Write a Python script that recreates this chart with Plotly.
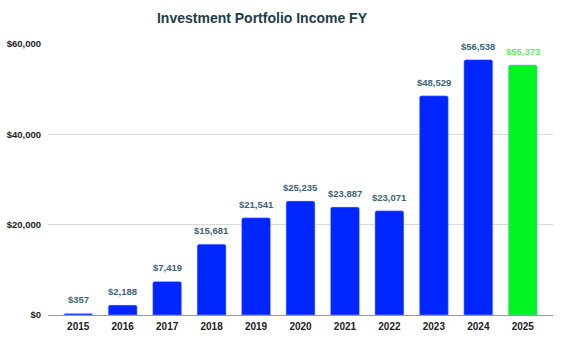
import plotly.graph_objects as go

years = ["2015", "2016", "2017", "2018", "2019", "2020", "2021", "2022", "2023", "2024", "2025"]
income = [357, 2188, 7419, 15681, 21541, 25235, 23887, 23071, 48529, 56538, 55373]
y_ticks = [0, 20000, 40000, 60000]
y_tick_labels = ["$0", "$20,000", "$40,000", "$60,000"]

blue = "#0026ff"
green = "#00f522"
bar_colors = [blue] * (len(years) - 1) + [green]
label_colors = ["#3e6478"] * (len(years) - 1) + ["#5cf05c"]
FONT = "Liberation Sans, Arial, sans-serif"

fig = go.Figure(
    go.Bar(
        x=years,
        y=income,
        marker=dict(color=bar_colors, line=dict(color="rgba(170,180,255,0.6)", width=0.8), cornerradius=2),
        width=0.65,
    )
)

# value labels above each bar (x given as category index)
for i, (val, col) in enumerate(zip(income, label_colors)):
    fig.add_annotation(
        x=i,
        y=val,
        xref="x",
        yref="y",
        text=f"<b>${val:,}</b>",
        showarrow=False,
        xanchor="center",
        yanchor="bottom",
        yshift=6,
        font=dict(family=FONT, size=9.5, color=col),
    )

fig.update_layout(
    width=561,
    height=341,
    margin=dict(l=48, r=8, t=44, b=26),
    paper_bgcolor="white",
    plot_bgcolor="white",
    showlegend=False,
    title=dict(
        text="<b>Investment Portfolio Income FY</b>",
        x=262 / 561,
        xanchor="center",
        y=1 - 18 / 341,
        yanchor="middle",
        font=dict(family=FONT, size=14, color="#1e3d47"),
    ),
    font=dict(family=FONT),
)

fig.update_xaxes(
    type="category",
    range=[-0.68, 10.68],
    tickvals=years,
    ticktext=[f"<b>{y}</b>" for y in years],
    showgrid=False,
    showline=True,
    linecolor="#999999",
    linewidth=1,
    ticks="",
    tickfont=dict(size=10, color="#222222", family=FONT),
    ticklabelstandoff=2,
)
fig.update_yaxes(
    range=[0, 60000],
    tickvals=y_ticks,
    ticktext=[f"<b>{t}</b>" for t in y_tick_labels],
    showgrid=True,
    gridcolor="#d9d9d9",
    gridwidth=1,
    zeroline=False,
    showline=False,
    tickfont=dict(size=9.5, color="#222222", family=FONT),
    ticklabelstandoff=6,
)

fig.write_html("out.html")
